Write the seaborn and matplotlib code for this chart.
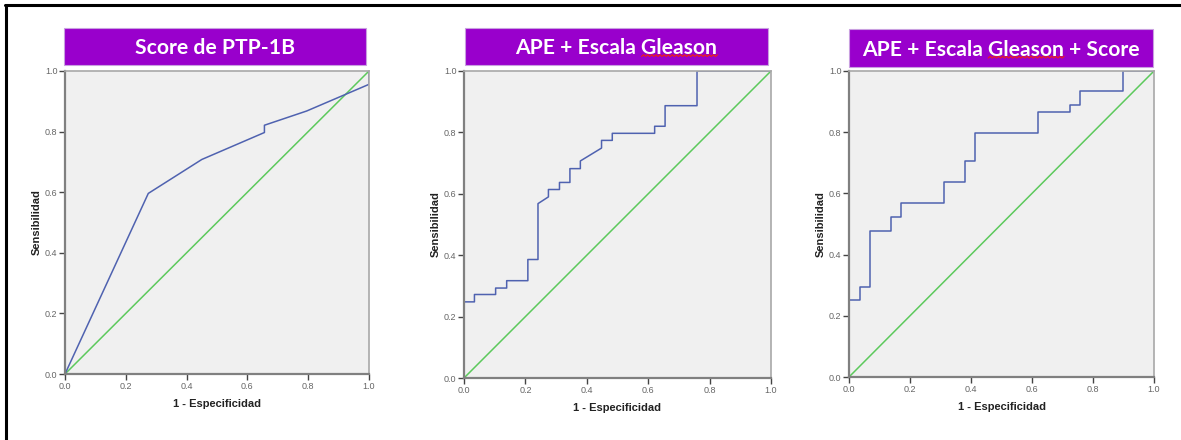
import numpy as np
import pandas as pd
import matplotlib
matplotlib.use("Agg")
import matplotlib.pyplot as plt
import seaborn as sns
from matplotlib.patches import Rectangle

# ROC curve coordinates
fpr_score = [0.0, 0.274, 0.45, 0.656, 0.656, 0.795, 1.0, 1.0]
tpr_score = [0.0, 0.596, 0.708, 0.797, 0.821, 0.868, 0.956, 1.0]

fpr_ape = [0.0, 0.0, 0.034, 0.034, 0.103, 0.103, 0.139, 0.139, 0.208, 0.208,
           0.241, 0.241, 0.275, 0.275, 0.311, 0.311, 0.345, 0.345, 0.379, 0.379,
           0.448, 0.448, 0.483, 0.483, 0.621, 0.621, 0.655, 0.655, 0.759, 0.759, 1.0]
tpr_ape = [0.0, 0.248, 0.248, 0.272, 0.272, 0.293, 0.293, 0.317, 0.317, 0.386,
           0.386, 0.568, 0.59, 0.614, 0.614, 0.637, 0.637, 0.682, 0.682, 0.707,
           0.749, 0.774, 0.774, 0.797, 0.797, 0.82, 0.82, 0.887, 0.887, 1.0, 1.0]

fpr_all = [0.0, 0.0, 0.035, 0.035, 0.068, 0.068, 0.138, 0.138, 0.172, 0.172,
           0.311, 0.311, 0.380, 0.380, 0.412, 0.412, 0.621, 0.621, 0.724, 0.724,
           0.758, 0.758, 0.898, 0.898, 1.0]
tpr_all = [0.0, 0.251, 0.251, 0.295, 0.295, 0.478, 0.478, 0.523, 0.523, 0.568,
           0.568, 0.638, 0.638, 0.706, 0.706, 0.798, 0.798, 0.866, 0.866, 0.889,
           0.889, 0.936, 0.936, 1.0, 1.0]

ref_line = [0.0, 1.0]
titles = ["Score de PTP-1B", "APE + Escala Gleason", "APE + Escala Gleason + Score"]
ticks = [0.0, 0.2, 0.4, 0.6, 0.8, 1.0]
tick_labels = ["0.0", "0.2", "0.4", "0.6", "0.8", "1.0"]

sns.set_theme(style="white")
plt.rcParams["font.family"] = ["Liberation Sans", "DejaVu Sans"]

fig = plt.figure(figsize=(11.81, 4.4), dpi=100)
W, H = 1181, 440

# pixel boxes: (left, top, right, bottom)
axes_px = [(65, 71, 369, 374), (464, 71, 771, 378), (849, 71, 1154, 377)]
title_px = [(64, 28, 366, 65), (465, 28, 768, 65), (849, 29, 1153, 67)]

curves = [(fpr_score, tpr_score), (fpr_ape, tpr_ape), (fpr_all, tpr_all)]
title_font = dict(fontsize=15.2, fontweight="bold", family=["Lato", "DejaVu Sans"])

# outer frame: top and left lines only
fig.add_artist(plt.Line2D([5 / W, 1.0], [1 - 5 / H, 1 - 5 / H], color="black", lw=2.2))
fig.add_artist(plt.Line2D([6 / W, 6 / W], [0.0, 1 - 5 / H], color="black", lw=2.2))

for i, ((l, t, r, b), (fx, ty)) in enumerate(zip(axes_px, curves)):
    ax = fig.add_axes([l / W, 1 - b / H, (r - l) / W, (b - t) / H])
    ax.set_facecolor("#f0f0f0")
    df = pd.DataFrame({"fpr": fx, "tpr": ty})
    ref = pd.DataFrame({"x": ref_line, "y": ref_line})
    sns.lineplot(data=ref, x="x", y="y", ax=ax, color="#5cc95c", lw=1.1,
                 estimator=None, sort=False)
    sns.lineplot(data=df, x="fpr", y="tpr", ax=ax, color="#4f62b0", lw=1.1,
                 estimator=None, sort=False)
    ax.set_xlim(0, 1)
    ax.set_ylim(0, 1)
    ax.set_xticks(ticks)
    ax.set_yticks(ticks)
    ax.set_xticklabels(tick_labels)
    ax.set_yticklabels(tick_labels)
    ax.tick_params(axis="both", direction="out", length=4, width=1, color="#444444",
                   labelsize=6.5, labelcolor="#666666", pad=1.5,
                   bottom=True, left=True)
    for side in ["left", "bottom"]:
        ax.spines[side].set_color("#808080")
        ax.spines[side].set_linewidth(1.6)
    for side in ["top", "right"]:
        ax.spines[side].set_color("#a8a8a8")
        ax.spines[side].set_linewidth(1.2)
    ax.set_xlabel("1 - Especificidad", fontsize=8, fontweight="bold",
                  color="#222222", labelpad=6)
    ax.set_ylabel("Sensibilidad", fontsize=8, fontweight="bold",
                  color="#222222", labelpad=2)

    # purple title banner
    tl, tt, tr, tb = title_px[i]
    fig.add_artist(Rectangle((tl / W, 1 - tb / H), (tr - tl) / W, (tb - tt) / H,
                             transform=fig.transFigure, facecolor="#9900cc",
                             edgecolor="#c9a0e0", lw=0.8))
    txt = fig.text((tl + tr) / 2 / W, 1 - ((tt + tb) / 2 + 2) / H, titles[i],
                   ha="center", va="center", color="white", **title_font)

    # red spell-check squiggle under "Gleason"
    if "Gleason" in titles[i]:
        renderer = fig.canvas.get_renderer()
        full = txt.get_window_extent(renderer)
        pre = titles[i].split("Gleason")[0]
        tmp1 = fig.text(0, 0, pre.rstrip() + " ", **title_font)
        tmp2 = fig.text(0, 0, pre + "Gleason", **title_font)
        x0 = full.x0 + tmp1.get_window_extent(renderer).width
        x1 = full.x0 + tmp2.get_window_extent(renderer).width
        tmp1.remove()
        tmp2.remove()
        n = int((x1 - x0) / 2)
        xs = np.linspace(x0, x1, n + 1)
        ys = full.y0 + 2 + np.where(np.arange(n + 1) % 2 == 0, 0.0, 1.8)
        fig.add_artist(plt.Line2D(xs / W, ys / H, color="#e82020", lw=0.9))

fig.savefig("out.png", dpi=100, facecolor="white")
